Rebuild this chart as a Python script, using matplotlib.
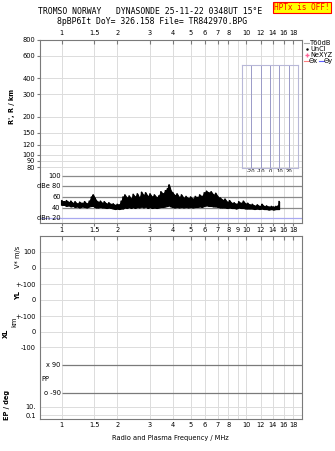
import math
import matplotlib
matplotlib.use('Agg')
import matplotlib.pyplot as plt
from matplotlib.ticker import NullLocator, NullFormatter, FixedLocator, FixedFormatter

W, H = 335, 451

# frequency axis (MHz)
freq_ticks = [1, 1.5, 2, 3, 4, 5, 6, 7, 8, 10, 12, 14, 16, 18]
freq_ticks_mid = [1, 1.5, 2, 3, 4, 5, 6, 7, 8, 9, 10, 12, 14, 16, 18]
freq_grid = [1, 1.5, 2, 3, 4, 5, 6, 7, 8, 9, 10, 12, 14, 16, 18]

# range axis (km)
r_ticks = [80, 90, 100, 120, 150, 200, 300, 400, 600, 800]

# noise trace (dB), envelope
noise_f = [1.00, 1.03, 1.06, 1.09, 1.12, 1.15, 1.18, 1.21, 1.25, 1.29, 1.33, 1.37, 1.41, 1.45,
           1.48, 1.51, 1.54, 1.58, 1.62, 1.66, 1.70, 1.75, 1.80, 1.85, 1.90, 1.95, 2.00, 2.05,
           2.10, 2.15, 2.20, 2.26, 2.32, 2.38, 2.44, 2.50, 2.57, 2.64, 2.71, 2.78, 2.85, 2.93,
           3.01, 3.09, 3.18, 3.27, 3.36, 3.45, 3.55, 3.65, 3.75, 3.82, 3.90, 4.00, 4.10, 4.22,
           4.34, 4.46, 4.59, 4.72, 4.86, 5.00, 5.15, 5.30, 5.45, 5.60, 5.76, 5.93, 6.10, 6.28,
           6.46, 6.65, 6.84, 7.04, 7.25, 7.46, 7.68, 7.90, 8.13, 8.37, 8.61, 8.86, 9.12, 9.39,
           9.66, 9.94, 10.2, 10.5, 10.8, 11.1, 11.5, 11.8, 12.2, 12.5, 12.9, 13.3, 13.7, 14.1,
           14.5, 14.9, 15.1]
noise_hi = [53, 51, 53, 50, 52, 48, 51, 47, 50, 48, 51, 47, 52, 60,
            64, 58, 53, 50, 52, 48, 51, 47, 49, 46, 47, 44, 46, 45,
            52, 60, 64, 58, 62, 56, 65, 60, 66, 58, 69, 63, 68, 61,
            66, 60, 64, 59, 62, 70, 66, 72, 76, 83, 72, 68, 63, 66,
            59, 64, 58, 61, 57, 60, 56, 61, 59, 64, 61, 68, 71, 68,
            70, 64, 67, 60, 58, 54, 56, 50, 53, 48, 49, 46, 51, 48,
            52, 47, 48, 45, 46, 43, 45, 42, 46, 42, 43, 41, 42, 41,
            42, 43, 51]
noise_lo = [45, 45, 43, 44, 42, 43, 41, 42, 40, 42, 41, 40, 42, 43,
            43, 41, 40, 40, 41, 40, 40, 39, 40, 39, 38, 37, 38, 37,
            38, 38, 40, 39, 41, 39, 41, 39, 41, 40, 42, 40, 42, 39,
            41, 39, 40, 39, 40, 41, 41, 42, 43, 44, 42, 41, 40, 41,
            40, 41, 40, 41, 40, 41, 40, 41, 41, 42, 41, 43, 44, 43,
            43, 42, 42, 41, 40, 40, 40, 39, 40, 39, 39, 38, 40, 39,
            39, 38, 38, 38, 38, 37, 38, 37, 38, 37, 37, 36, 37, 36,
            37, 37, 37]

# lower panel scale labels
low_labels = ['100', '0', '+-100', '0', '+-100', '0', '-100', '10.', '0.1']
low_rows = [251.7, 268, 284.3, 300, 316.3, 332, 347.3, 406.7, 415.3]

tilt_lines = [-30, -20, -10, 0, 10, 20, 30]
tilt_labels = [-20, -10, 0, 10, 20]

GRID = '#dcdcdc'
FRAME = '#7a7a7a'
FS = 4.8


def rect(x0, y0, x1, y1):
    return [x0 / W, 1 - y1 / H, (x1 - x0) / W, (y1 - y0) / H]


def freq_axis(ax):
    ax.set_xscale('log')
    ax.set_xlim(0.762, 20.1)
    ax.xaxis.set_minor_locator(NullLocator())
    ax.xaxis.set_major_locator(FixedLocator(freq_ticks))
    ax.xaxis.set_major_formatter(NullFormatter())
    for f in freq_grid:
        ax.axvline(f, color=GRID, lw=0.7, zorder=0)
    for s in ax.spines.values():
        s.set_color(FRAME)
        s.set_linewidth(0.8)
    ax.tick_params(axis='x', direction='in', length=3, color=FRAME, top=True, bottom=False)


def freq_labels(y, ticks):
    for f in ticks:
        xp = 61.7 + 184.3 * math.log10(f)
        fig.text(xp / W, 1 - y / H, ('%g' % f), ha='center', va='center', fontsize=FS)


fig = plt.figure(figsize=(W / 100, H / 100), dpi=100)
fig.patch.set_facecolor('white')

# title
fig.text(150 / W, 1 - 12 / H, 'TROMSO NORWAY   DYNASONDE 25-11-22 0348UT 15\u00b0E',
         ha='center', va='center', fontsize=5.9, family='DejaVu Sans Mono')
fig.text(152 / W, 1 - 21 / H, '8pBP6It DoY= 326.158 File= TR842970.BPG',
         ha='center', va='center', fontsize=5.9, family='DejaVu Sans Mono')
fig.text(302 / W, 1 - 7.5 / H, 'HPTx is OFF!', ha='center', va='center', fontsize=5.6,
         family='DejaVu Sans Mono', color='red',
         bbox=dict(facecolor='#ffff00', edgecolor='red', pad=1.0, lw=0.8))

# upper panel: virtual range
axR = fig.add_axes(rect(40, 40, 302, 172))
freq_axis(axR)
axR.set_yscale('log')
axR.set_ylim(73.5, 800)
axR.yaxis.set_minor_locator(NullLocator())
axR.yaxis.set_major_locator(FixedLocator(r_ticks))
axR.yaxis.set_major_formatter(FixedFormatter([str(v) for v in r_ticks]))
axR.tick_params(axis='y', length=2, color=FRAME, labelsize=FS, pad=1.5)
for r in r_ticks:
    axR.axhline(r, color=GRID, lw=0.7, zorder=0)
axR.spines['bottom'].set_visible(False)
axR.set_ylabel("R', R / km", fontsize=FS, fontweight='bold', labelpad=5)

# tilt inset
axT = fig.add_axes(rect(242, 65, 298, 168))
axT.set_xlim(-30, 30)
axT.set_ylim(0, 1)
axT.patch.set_alpha(0)
for t in tilt_lines:
    axT.axvline(t, color='#9a9ac8', lw=0.7)
for s in axT.spines.values():
    s.set_color('#b8b8d8')
axT.set_xticks(tilt_labels)
axT.set_xticklabels([str(t) for t in tilt_labels], fontsize=3.8)
axT.tick_params(axis='x', length=0, pad=1)
axT.set_yticks([])
axT.set_xlabel('Tilt / deg', fontsize=3.8, labelpad=0)

# legend
lx = 304
for i, name in enumerate(['T60dB', 'UnCl', 'NeXYZ']):
    fig.text((lx + 6) / W, 1 - (43 + 6 * i) / H, name, fontsize=FS, va='center')
fig.add_artist(plt.Line2D([lx / W, (lx + 5) / W], [1 - 43 / H, 1 - 43 / H], color='#aaaaaa', lw=0.8))
fig.add_artist(plt.Line2D([(lx + 3) / W], [1 - 49 / H], marker='.', ms=1.5, color='black'))
fig.add_artist(plt.Line2D([(lx + 3) / W], [1 - 55 / H], marker='+', ms=3, color='#ff6699', lw=0))
fig.add_artist(plt.Line2D([lx / W, (lx + 5) / W], [1 - 61 / H, 1 - 61 / H], color='#ff8080', lw=0.8))
fig.text((lx + 5) / W, 1 - 61 / H, '\u0398x', fontsize=FS, va='center')
fig.add_artist(plt.Line2D([(lx + 15) / W, (lx + 20) / W], [1 - 61 / H, 1 - 61 / H], color='#6060ff', lw=0.8))
fig.text((lx + 20) / W, 1 - 61 / H, '\u0398y', fontsize=FS, va='center')

# upper panel: amplitude
axA = fig.add_axes(rect(40, 172, 302, 223))
freq_axis(axA)
axA.tick_params(axis='x', top=False, bottom=True, direction='out', length=2)
axA.spines['top'].set_visible(False)
axA.set_ylim(10.5, 107.6)
axA.set_yticks([])
for lev in [40, 60, 80, 100]:
    axA.hlines(lev, 1, 20.1, color='#8a8a8a', lw=0.9, zorder=1)
axA.axhline(20, color='#a8a8f0', lw=0.9, zorder=1)
for lev, txt in [(100, '100'), (80, 'dBe 80'), (60, '60'), (40, '40'), (20, 'dBn 20')]:
    axA.text(0.985, lev, txt, ha='right', va='center', fontsize=FS)
axA.fill_between(noise_f, noise_lo, noise_hi, color='black', lw=0.8, zorder=3)
zig_f, zig_v = [], []
for f, lo, hi in zip(noise_f, noise_lo, noise_hi):
    zig_f += [f, f]
    zig_v += [lo, hi]
axA.plot(zig_f, zig_v, color='black', lw=1.2, zorder=4)

# lower panel
axL = fig.add_axes(rect(40, 236, 302, 419))
freq_axis(axL)
axL.set_ylim(419, 236)
axL.yaxis.set_major_locator(FixedLocator(low_rows))
axL.yaxis.set_major_formatter(FixedFormatter(low_labels))
axL.tick_params(axis='y', length=0, labelsize=FS, pad=3)
for yrow in low_rows:
    axL.axhline(yrow, color=GRID, lw=0.7, zorder=0)
axL.hlines([365, 393.3], 1, 20.1, color='#7a7a7a', lw=0.9)
axL.text(0.985, 365, 'x 90', ha='right', va='center', fontsize=FS)
axL.text(0.985, 393.3, 'o -90', ha='right', va='center', fontsize=FS)
axL.text(0.81, 379.3, 'PP', ha='center', va='center', fontsize=FS)

# panel side labels
side = [(18, 257, 'V* m/s'), (18, 296, 'YL'), (14, 322, 'km'), (6, 333, 'XL'), (7, 405, 'EP / deg')]
for x, y, txt in side:
    fig.text(x / W, 1 - y / H, txt, rotation=90, ha='center', va='center', fontsize=FS,
             fontweight='bold' if txt in ('YL', 'XL', 'EP / deg') else 'normal')

freq_labels(33, freq_ticks)
freq_labels(230, freq_ticks_mid)
freq_labels(425, freq_ticks)
fig.text(170 / W, 1 - 438 / H, 'Radio and Plasma Frequency / MHz', ha='center', va='center', fontsize=FS)

fig.savefig('out.png', dpi=100, facecolor='white')
